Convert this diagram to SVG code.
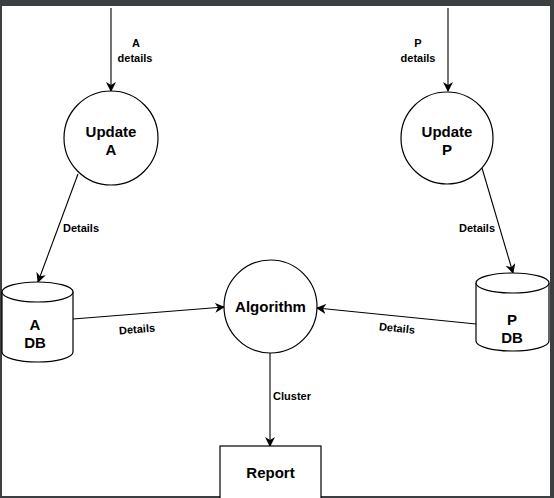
<svg xmlns="http://www.w3.org/2000/svg" width="554" height="498" viewBox="0 0 554 498">
<style>
.sh{fill:#fff;stroke:#000;stroke-width:1.2}
.ed{fill:none;stroke:#000;stroke-width:1.1}
.nt{font-family:"Liberation Sans",Arial,sans-serif;font-weight:bold;font-size:15px;fill:#000;text-anchor:middle}
.lb{font-family:"Liberation Sans",Arial,sans-serif;font-weight:bold;font-size:11px;fill:#000;text-anchor:middle}
</style>
<defs>
<marker id="ar" viewBox="0 0 10 10" refX="9" refY="5" markerWidth="10" markerHeight="10" markerUnits="userSpaceOnUse" orient="auto">
<path d="M0,0 L10,5 L0,10 L3,5 Z" fill="#000"/>
</marker>
</defs>
<rect x="0" y="0" width="554" height="498" fill="#3c3f41"/>
<rect x="2" y="6" width="548" height="490" fill="#fff"/>
<g id="connectors">
<path class="ed" d="M111,8 L111,91" marker-end="url(#ar)"/>
<path class="ed" d="M448,8 L448,91" marker-end="url(#ar)"/>
<path class="ed" d="M78,174 L38,282" marker-end="url(#ar)"/>
<path class="ed" d="M482,168 L513,273" marker-end="url(#ar)"/>
<path class="ed" d="M73,319 L224,307" marker-end="url(#ar)"/>
<path class="ed" d="M476,324 L317,308" marker-end="url(#ar)"/>
<path class="ed" d="M270,353 L270,446" marker-end="url(#ar)"/>
<text class="lb" x="136" y="47">A</text>
<text class="lb" x="135" y="62">details</text>
<text class="lb" x="418" y="47">P</text>
<text class="lb" x="418" y="62">details</text>
<text class="lb" x="81" y="232">Details</text>
<text class="lb" x="477" y="232">Details</text>
<text class="lb" x="137" y="333" transform="rotate(-4.5 137 329)">Details</text>
<text class="lb" x="397" y="332" transform="rotate(5.7 397 328)">Details</text>
<text class="lb" x="292" y="400">Cluster</text>
</g>
<g id="updateA">
<circle class="sh" cx="111" cy="138" r="47"/>
<text class="nt" x="111" y="137">Update</text>
<text class="nt" x="111" y="155">A</text>
</g>
<g id="updateP">
<circle class="sh" cx="447" cy="138" r="46"/>
<text class="nt" x="447" y="137">Update</text>
<text class="nt" x="447" y="155">P</text>
</g>
<g id="algorithm">
<circle class="sh" cx="270.5" cy="306.5" r="46.5"/>
<text class="nt" x="270.5" y="312">Algorithm</text>
</g>
<g id="aDB">
<path class="sh" d="M2,292 A35.5,10 0 0 1 73,292 L73,352 A35.5,10 0 0 1 2,352 Z"/>
<path class="sh" fill="none" d="M2,292 A35.5,10 0 0 0 73,292"/>
<text class="nt" x="35" y="330">A</text>
<text class="nt" x="35" y="348">DB</text>
</g>
<g id="pDB">
<path class="sh" d="M476,283 A36.5,10 0 0 1 549,283 L549,341 A36.5,10 0 0 1 476,341 Z"/>
<path class="sh" fill="none" d="M476,283 A36.5,10 0 0 0 549,283"/>
<text class="nt" x="512" y="325">P</text>
<text class="nt" x="512" y="343">DB</text>
</g>
<g id="report">
<rect class="sh" x="220" y="446" width="101" height="60"/>
<text class="nt" x="270.5" y="478">Report</text>
</g>
</svg>
